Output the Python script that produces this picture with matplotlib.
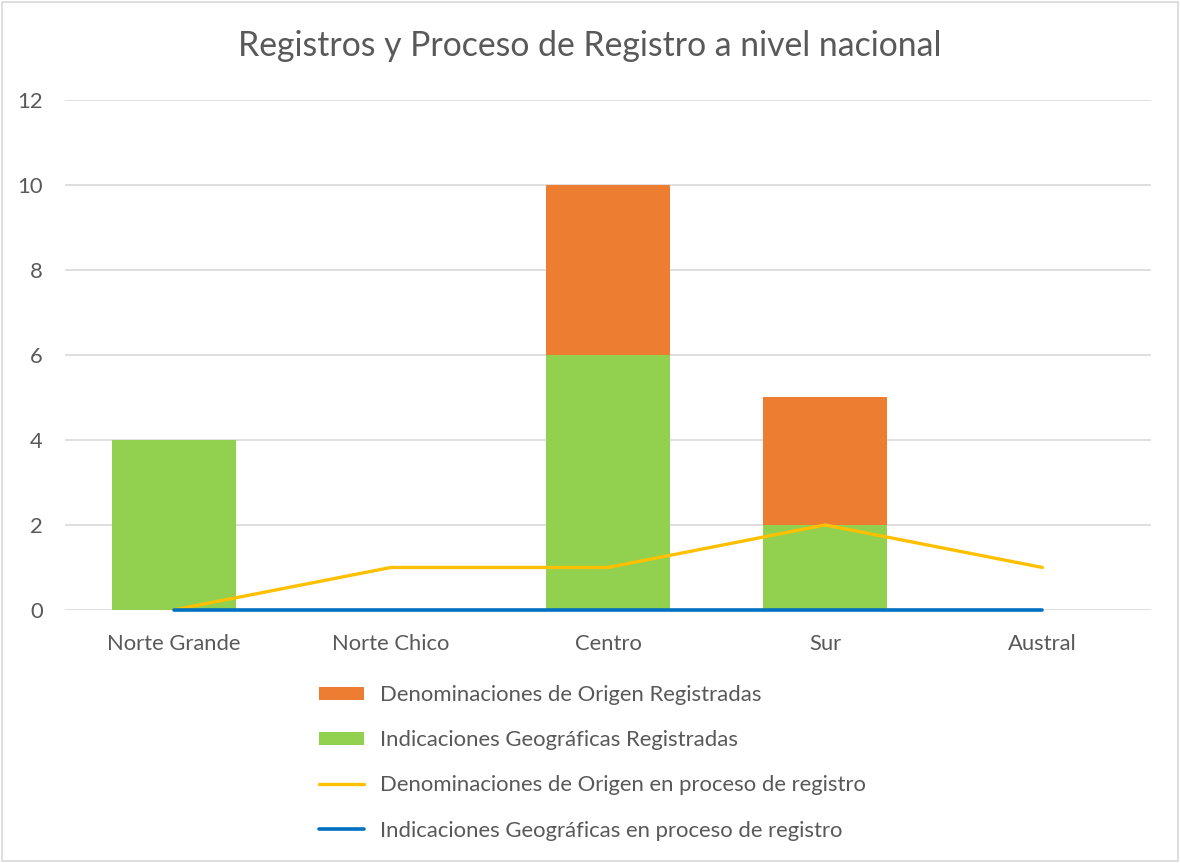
import matplotlib
matplotlib.use("Agg")
import matplotlib.pyplot as plt
from matplotlib.patches import Rectangle

categories = ["Norte Grande", "Norte Chico", "Centro", "Sur", "Austral"]
ig_registradas = [4, 0, 6, 2, 0]
do_registradas = [0, 0, 4, 3, 0]
do_proceso = [0, 1, 1, 2, 1]
ig_proceso = [0, 0, 0, 0, 0]
yticks = [0, 2, 4, 6, 8, 10, 12]

TXT = "#595959"
plt.rcParams['font.family'] = ['Lato', 'DejaVu Sans']

fig = plt.figure(figsize=(11.8, 8.63), dpi=100)
ax = fig.add_axes([0.0551, 0.2932, 0.9203, 0.5910])
x = list(range(len(categories)))

b_ig = ax.bar(x, ig_registradas, width=0.57, color="#92D050", zorder=2,
              label="Indicaciones Geográficas Registradas")
b_do = ax.bar(x, do_registradas, width=0.57, bottom=ig_registradas, color="#ED7D31",
              zorder=2, label="Denominaciones de Origen Registradas")
l_do, = ax.plot(x, do_proceso, color="#FFC000", lw=2.4, zorder=3,
                solid_capstyle="round", label="Denominaciones de Origen en proceso de registro")
l_ig, = ax.plot(x, ig_proceso, color="#0070C0", lw=2.6, zorder=4, clip_on=False,
                solid_capstyle="round", label="Indicaciones Geográficas en proceso de registro")

ax.set_xlim(-0.5, 4.5)
ax.set_ylim(0, 12)
ax.set_yticks(yticks)
ax.set_xticks(x)
ax.set_xticklabels(categories)
ax.grid(axis="y", color="#D9D9D9", lw=1.2, zorder=0)
for s in ax.spines.values():
    s.set_visible(False)
ax.tick_params(axis="both", length=0, colors=TXT, labelsize=15.8)
ax.tick_params(axis="x", pad=17)
ax.tick_params(axis="y", pad=16)

fig.text(0.5, 0.947, "Registros y Proceso de Registro a nivel nacional",
         ha="center", va="center", fontsize=24.3, color=TXT)

handles = [b_do, b_ig, l_do, l_ig]
labels = [h.get_label() for h in handles]
leg = fig.legend(handles, labels, loc="upper left", bbox_to_anchor=(0.261, 0.219),
                 frameon=False, fontsize=15.9, labelcolor=TXT, handlelength=2.03,
                 handleheight=0.55, handletextpad=0.72, labelspacing=1.14, borderpad=0)

fig.patches.append(Rectangle((0.002, 0.002), 0.996, 0.996, transform=fig.transFigure,
                             fill=False, edgecolor="#D9D9D9", lw=1.2))
fig.savefig("out.png", dpi=100)
